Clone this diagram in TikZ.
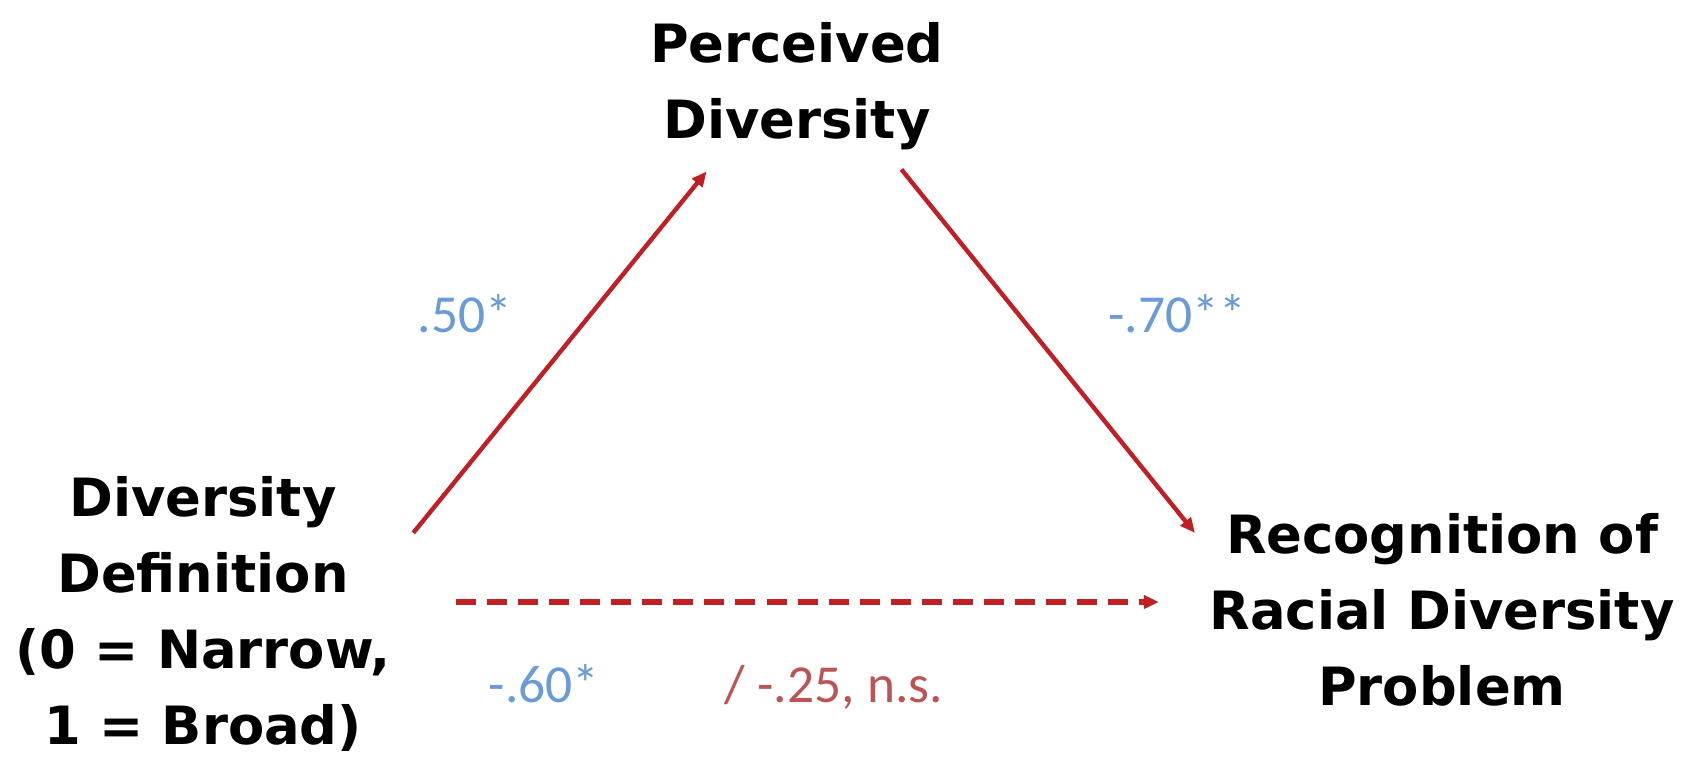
\documentclass[tikz,border=0pt]{standalone}
\usepackage{fontspec}
\setmainfont{DejaVu Sans}
\newfontfamily\coeffont{Carlito}
\usepackage{tikz}
\usetikzlibrary{positioning}
\usetikzlibrary{arrows.meta}
\definecolor{pathred}{RGB}{192,32,36}
\definecolor{coefblue}{RGB}{104,155,215}
\definecolor{nsred}{RGB}{188,84,84}

\tikzset{
  var/.style={align=center, inner sep=0pt, font=\fontsize{15}{21.6}\selectfont\bfseries},
  coef/.style={anchor=base, inner sep=0pt, font=\coeffont\fontsize{15.2}{18}\selectfont},
  effect/.style={draw=pathred, line width=1.25pt, -{Triangle[length=0.15cm,width=0.13cm]}}
}

\begin{document}
\begin{tikzpicture}[x=0.01cm, y=-0.01cm]
    \useasboundingbox (0,0) rectangle (1695,763);

    % Variables
    \node[var] (perc) at (797,86) {Perceived\\Diversity};
    \node[var] (defn) at (203,614) {Diversity\\Definition\\(0 = Narrow,\\1 = Broad)};
    \node[var] (recog) at (1442,610) {Recognition of\\Racial Diversity\\Problem};

    % Paths a and b
    \draw[effect] ([xshift=0.22cm,yshift=-0.57cm]defn.north east) -- ([xshift=0.57cm,yshift=-0.21cm]perc.south west);
    \draw[effect] ([xshift=-0.43cm,yshift=-0.19cm]perc.south east) -- ([xshift=-0.14cm,yshift=-0.20cm]recog.north west);

    % Direct path
    \coordinate (dstart) at ([xshift=0.65cm,yshift=0.12cm]defn.east);
    \draw[effect, dash pattern=on 0.2cm off 0.11cm, line width=1.7pt, shorten >=0.5cm] (dstart) -- (dstart -| recog.west);

    % Coefficients
    \node[coef, text=coefblue] (ca) at (465,332) {.50*};
    \node[coef, text=coefblue] (cb) at (1177,332) {-.70**};
    \node[coef, text=coefblue] (cc) at (544,702) {-.60*};
    \node[coef, text=nsred] (cd) at (834,702) {/ -.25, n.s.};
\end{tikzpicture}
\end{document}
